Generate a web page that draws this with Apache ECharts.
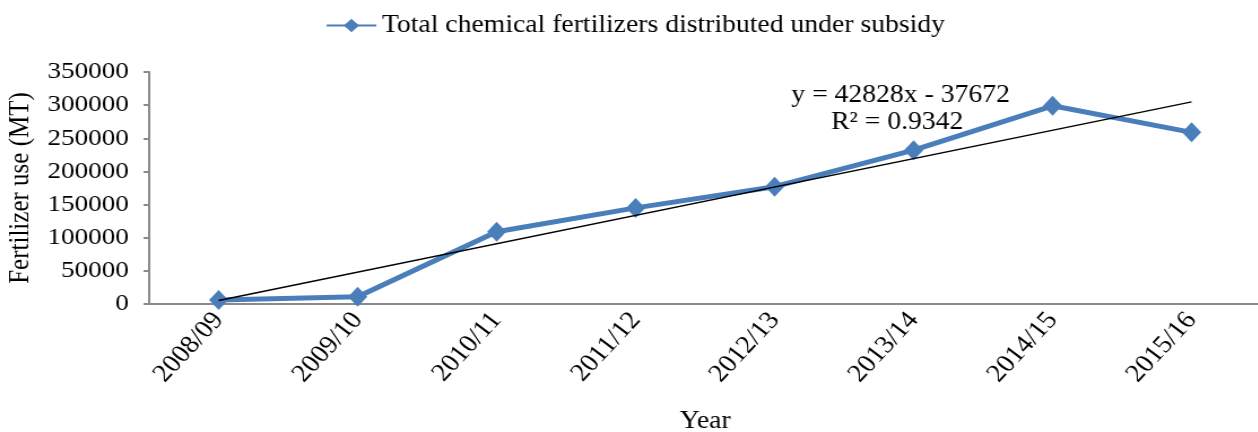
<!DOCTYPE html>
<html>
<head>
<meta charset="utf-8">
<script src="https://cdn.jsdelivr.net/npm/echarts@6/dist/echarts.min.js"></script>
<style>
  html, body { margin: 0; padding: 0; background: #fff; overflow: hidden; }
  /* the reference image is stretched sideways, so draw narrower and scale x */
  #chart { width: 1113px; height: 432px; transform: scaleX(1.13); transform-origin: 0 0; }
</style>
</head>
<body>
<div id="chart"></div>
<script>
// categories (fiscal years)
const years = ['2008/09', '2009/10', '2010/11', '2011/12', '2012/13', '2013/14', '2014/15', '2015/16']

// fertilizer distributed under subsidy (MT)
const fertilizer = [6000, 11000, 109000, 145000, 177000, 232000, 299000, 259000]

// linear trend, only the two end points are drawn
const trend = [5156, null, null, null, null, null, null, 304952]

const yTicks = { min: 0, max: 350000, interval: 50000 }

const serif = '"Liberation Serif", "Times New Roman", serif'
const blue = '#4a7ebb'
const axisGray = '#8a8a8a'

const chart = echarts.init(document.getElementById('chart'))

const option = {
  animation: false,
  textStyle: { fontFamily: serif },
  grid: {
    left: 132,
    right: -3,
    top: 72,
    bottom: 128,
    outerBoundsMode: 'none'
  },
  legend: {
    left: 283,
    top: 8,
    data: [{ name: 'Total chemical fertilizers distributed under subsidy' }],
    itemWidth: 44,
    itemHeight: 17,
    itemGap: 3,
    textStyle: { fontFamily: serif, fontSize: 24.5, color: '#000' }
  },
  xAxis: {
    type: 'category',
    data: years,
    boundaryGap: true,
    name: 'Year',
    nameLocation: 'middle',
    nameGap: 105,
    nameTextStyle: { fontFamily: serif, fontSize: 24.5, color: '#000' },
    axisLine: { lineStyle: { color: axisGray, width: 2 } },
    axisTick: { alignWithLabel: true, length: 5, lineStyle: { color: axisGray, width: 2 } },
    axisLabel: {
      rotate: 50,
      margin: 12,
      fontFamily: serif,
      fontSize: 25,
      color: '#000'
    }
  },
  yAxis: {
    type: 'value',
    min: yTicks.min,
    max: yTicks.max,
    interval: yTicks.interval,
    name: 'Fertilizer use (MT)',
    nameLocation: 'middle',
    nameGap: 100,
    nameRotate: 90,
    nameTextStyle: { fontFamily: serif, fontSize: 25, color: '#000' },
    axisLine: { show: true, lineStyle: { color: axisGray, width: 2 } },
    axisTick: { show: true, length: 5, lineStyle: { color: axisGray, width: 2 } },
    splitLine: { show: false },
    axisLabel: {
      margin: 18,
      fontFamily: serif,
      fontSize: 24,
      color: '#000',
      formatter: v => String(v)
    }
  },
  graphic: [
    {
      type: 'text',
      x: 797,
      y: 96,
      style: {
        text: 'y = 42828x - 37672',
        fontFamily: serif,
        fontSize: 24.5,
        fill: '#000',
        align: 'center',
        verticalAlign: 'middle'
      }
    },
    {
      type: 'text',
      x: 794,
      y: 123,
      style: {
        text: 'R² = 0.9342',
        fontFamily: serif,
        fontSize: 24.5,
        fill: '#000',
        align: 'center',
        verticalAlign: 'middle'
      }
    }
  ],
  series: [
    {
      name: 'Total chemical fertilizers distributed under subsidy',
      type: 'line',
      data: fertilizer,
      symbol: 'diamond',
      symbolSize: [17, 20],
      itemStyle: { color: blue },
      lineStyle: { color: blue, width: 5 },
      z: 2
    },
    {
      name: 'Linear trend',
      type: 'line',
      data: trend,
      connectNulls: true,
      showSymbol: false,
      symbol: 'none',
      lineStyle: { color: '#000', width: 1.5 },
      z: 3
    }
  ]
}

chart.setOption(option)
</script>
</body>
</html>
